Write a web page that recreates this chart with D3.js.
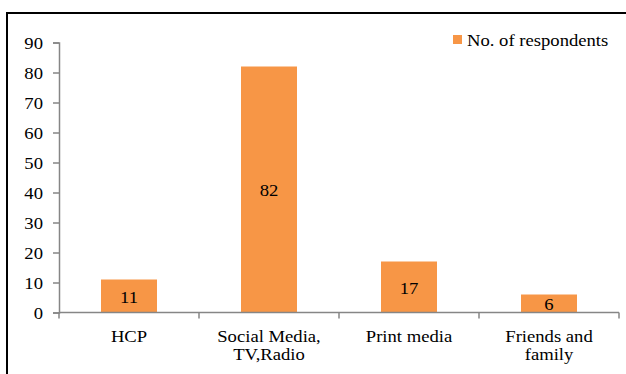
<!DOCTYPE html>
<html>
<head>
<meta charset="utf-8">
<script src="https://cdn.jsdelivr.net/npm/d3@7"></script>
<style>
  body { margin: 0; background: #fff; }
  svg text { font-family: "Times New Roman", "Liberation Serif", serif; font-size: 16.5px; fill: #000; }
</style>
</head>
<body>
<div id="chart"></div>
<script>
// data
const categories = ["HCP", "Social Media,\nTV,Radio", "Print media", "Friends and\nfamily"];
const respondents = [11, 82, 17, 6];
const yTicks = [0, 10, 20, 30, 40, 50, 60, 70, 80, 90];
const seriesName = "No. of respondents";

const W = 626, H = 374;
const margin = { top: 42.5, left: 59, right: 7, bottom: 61.5 };
const width = W - margin.left - margin.right;
const height = H - margin.top - margin.bottom;
const stretch = 1.13; // the original text is a bit wider than normal Times

const svg = d3.select("#chart").append("svg")
  .attr("width", W)
  .attr("height", H);

// frame (top + left visible)
svg.append("path")
  .attr("d", "M7," + (H + 2) + "V13H" + (W + 2))
  .attr("fill", "none")
  .attr("stroke", "#000")
  .attr("stroke-width", 2);

const g = svg.append("g")
  .attr("transform", "translate(" + margin.left + "," + margin.top + ")");

const x = d3.scaleBand()
  .domain(categories)
  .range([0, width])
  .paddingInner(0.6)
  .paddingOuter(0.3);

const y = d3.scaleLinear()
  .domain([0, 90])
  .range([height, 0]);

const color = "#F79646";
const axisColor = "#868686";

const at = (px, py) => "translate(" + px + "," + py + ") scale(" + stretch + ",1)";

// bars
g.selectAll(".bar")
  .data(respondents)
  .enter()
  .append("rect")
  .attr("class", "bar")
  .attr("x", (d, i) => x(categories[i]))
  .attr("y", d => y(d))
  .attr("width", x.bandwidth())
  .attr("height", d => height - y(d))
  .attr("fill", color);

// value labels
g.selectAll(".val")
  .data(respondents)
  .enter()
  .append("text")
  .attr("class", "val")
  .attr("transform", (d, i) => at(x(categories[i]) + x.bandwidth() / 2, (y(d) + height) / 2))
  .attr("dy", "0.4em")
  .attr("text-anchor", "middle")
  .text(d => d);

// y axis
const yAxis = g.append("g")
  .call(d3.axisLeft(y).tickValues(yTicks).tickSize(6).tickPadding(10));
yAxis.attr("font-family", null).attr("font-size", null);
yAxis.select(".domain").attr("stroke", axisColor).attr("stroke-width", 1.5);
yAxis.selectAll(".tick line").attr("stroke", axisColor).attr("stroke-width", 1.5);
yAxis.selectAll(".tick text")
  .attr("x", 0)
  .attr("dy", "0.35em")
  .attr("transform", at(-16, 0))
  .attr("fill", "#000");

// x axis: ticks at category boundaries
const step = x.step();
const bounds = d3.range(categories.length + 1).map(i => i * step);
const xAxisG = g.append("g").attr("transform", "translate(0," + height + ")");
xAxisG.append("line")
  .attr("x1", 0).attr("x2", width)
  .attr("stroke", axisColor).attr("stroke-width", 1.5);
xAxisG.selectAll(".xt")
  .data(bounds)
  .enter()
  .append("line")
  .attr("x1", d => d).attr("x2", d => d)
  .attr("y1", 0).attr("y2", 6)
  .attr("stroke", axisColor).attr("stroke-width", 1.5);

const xl = xAxisG.selectAll(".xl")
  .data(categories)
  .enter()
  .append("text")
  .attr("class", "xl")
  .attr("text-anchor", "middle")
  .attr("transform", d => at(x(d) + x.bandwidth() / 2, 29));
xl.each(function (d) {
  const t = d3.select(this);
  d.split("\n").forEach((ln, j) => {
    t.append("tspan")
      .attr("x", 0)
      .attr("dy", j === 0 ? 0 : 19)
      .text(ln);
  });
});

// legend
const legend = svg.append("g").attr("transform", "translate(453,35)");
legend.append("rect")
  .attr("width", 9).attr("height", 9)
  .attr("fill", color);
legend.append("text")
  .attr("transform", at(14, 11))
  .text(seriesName);
</script>
</body>
</html>
